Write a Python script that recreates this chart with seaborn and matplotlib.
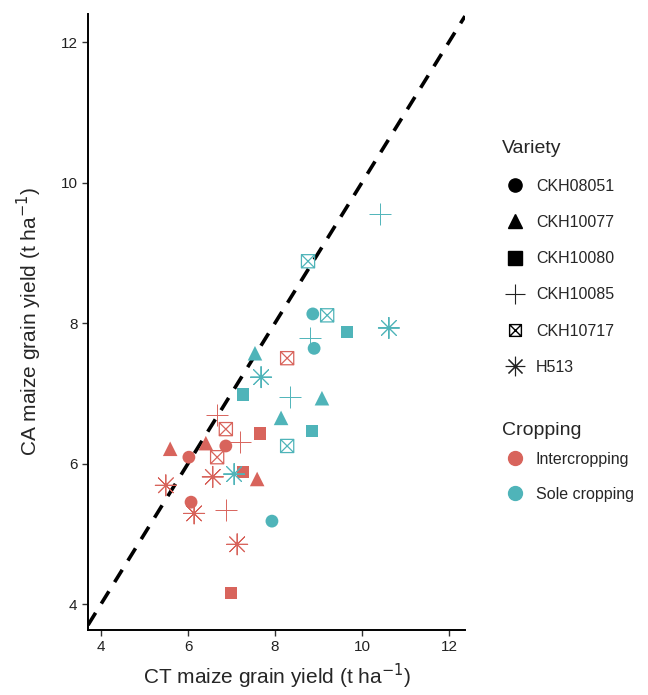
import numpy as np
import pandas as pd
import matplotlib
matplotlib.use('Agg')
import matplotlib.pyplot as plt
from matplotlib.path import Path
from matplotlib.lines import Line2D
import seaborn as sns

# Data
varieties = ['CKH08051', 'CKH10077', 'CKH10080', 'CKH10085', 'CKH10717', 'H513']
croppings = ['Intercropping', 'Sole cropping']

variety = (['CKH08051'] * 3 + ['CKH10077'] * 3 + ['CKH10080'] * 3 + ['CKH10085'] * 3
           + ['CKH10717'] * 3 + ['H513'] * 4
           + ['CKH08051'] * 3 + ['CKH10077'] * 3 + ['CKH10080'] * 3 + ['CKH10085'] * 3
           + ['CKH10717'] * 3 + ['H513'] * 3)
cropping = ['Intercropping'] * 19 + ['Sole cropping'] * 18

ct_yield = [6.87, 6.02, 6.07,
            5.59, 6.41, 7.59,
            7.66, 7.26, 6.99,
            6.67, 7.20, 6.87,
            8.28, 6.87, 6.67,
            6.57, 5.49, 6.14, 7.13,
            8.87, 8.90, 7.93,
            7.54, 8.14, 9.08,
            7.26, 9.66, 8.85,
            10.41, 8.80, 8.34,
            8.76, 9.20, 8.28,
            7.68, 7.06, 10.62]
ca_yield = [6.25, 6.09, 5.45,
            6.21, 6.29, 5.78,
            6.43, 5.88, 4.16,
            6.69, 6.31, 5.34,
            7.50, 6.49, 6.09,
            5.81, 5.69, 5.29, 4.85,
            8.13, 7.64, 5.18,
            7.57, 6.65, 6.93,
            6.98, 7.87, 6.46,
            9.55, 7.79, 6.95,
            8.88, 8.11, 6.25,
            7.23, 5.85, 7.93]

df = pd.DataFrame({'Variety': variety, 'Cropping': cropping,
                   'CT': ct_yield, 'CA': ca_yield})

# styling
palette = {'Intercropping': '#D8645C', 'Sole cropping': '#4FB4B9'}

# square with a cross (ggplot shape 7)
box_x = Path([(-1, -1), (1, -1), (1, 1), (-1, 1), (-1, -1),
              (-1, -1), (1, 1), (-1, 1), (1, -1)],
             [Path.MOVETO, Path.LINETO, Path.LINETO, Path.LINETO, Path.CLOSEPOLY,
              Path.MOVETO, Path.LINETO, Path.MOVETO, Path.LINETO])

markers = {'CKH08051': 'o', 'CKH10077': '^', 'CKH10080': 's',
           'CKH10085': '+', 'CKH10717': box_x, 'H513': (8, 2, 0)}
sizes = {'CKH08051': 85, 'CKH10077': 110, 'CKH10080': 80,
         'CKH10085': 260, 'CKH10717': 90, 'H513': 230}

sns.set_style('ticks')
plt.rcParams['font.family'] = ['Liberation Sans', 'DejaVu Sans']

fig = plt.figure(figsize=(6.48, 6.95), dpi=100)
ax = fig.add_axes([88 / 648, 1 - 630 / 695, (465 - 88) / 648, (630 - 14) / 695])

# 1:1 line
ax.axline((4, 4), (12, 12), color='black', lw=2.6, dashes=(4, 3), zorder=1)

for v in varieties:
    sub = df[df['Variety'] == v]
    m = markers[v]
    if v in ('CKH10085', 'H513'):
        sns.scatterplot(data=sub, x='CT', y='CA', hue='Cropping', hue_order=croppings,
                        palette=palette, marker=m, s=sizes[v], linewidth=0.7,
                        legend=False, ax=ax, zorder=3)
    elif v == 'CKH10717':
        sns.scatterplot(data=sub, x='CT', y='CA', hue='Cropping', hue_order=croppings,
                        palette=palette, marker=m, s=sizes[v], linewidth=0.9,
                        legend=False, ax=ax, zorder=3)
        coll = ax.collections[-1]
        coll.set_edgecolor(coll.get_facecolor())
        coll.set_facecolor('none')
    else:
        sns.scatterplot(data=sub, x='CT', y='CA', hue='Cropping', hue_order=croppings,
                        palette=palette, marker=m, s=sizes[v], edgecolor='none',
                        linewidth=0, legend=False, ax=ax, zorder=3)

ax.set_xlim(3.70, 12.37)
ax.set_ylim(3.63, 12.40)
ax.set_xticks([4, 6, 8, 10, 12])
ax.set_yticks([4, 6, 8, 10, 12])
ax.tick_params(labelsize=11, labelcolor='#222222', color='#333333', length=4, width=1)
for s in ['left', 'bottom']:
    ax.spines[s].set_linewidth(1.4)
    ax.spines[s].set_color('black')
sns.despine(ax=ax)
ax.set_xlabel('CT maize grain yield (t ha$^{-1}$)', fontsize=15, labelpad=5)
ax.set_ylabel('CA maize grain yield (t ha$^{-1}$)', fontsize=15, labelpad=12)

# legends
var_handles = []
for v in varieties:
    m = markers[v]
    if v == 'CKH10717':
        h = Line2D([], [], marker=m, linestyle='none', color='black',
                   markerfacecolor='none', markersize=8.5, markeredgewidth=1.0)
    elif v in ('CKH10085', 'H513'):
        h = Line2D([], [], marker=m, linestyle='none', color='#222222',
                   markersize=14, markeredgewidth=0.8)
    else:
        h = Line2D([], [], marker=m, linestyle='none', color='black',
                   markersize=9.5)
    var_handles.append(h)

leg1 = fig.legend(var_handles, varieties, title='Variety', loc='upper left',
                  bbox_to_anchor=(488 / 648, 1 - 126 / 695), frameon=False,
                  fontsize=11.5, title_fontsize=14, labelspacing=1.33,
                  handletextpad=0.5, handlelength=1.6, alignment='left')

crop_handles = [Line2D([], [], marker='o', linestyle='none', color=palette[c],
                       markersize=10) for c in croppings]
leg2 = fig.legend(crop_handles, croppings, title='Cropping', loc='upper left',
                  bbox_to_anchor=(488 / 648, 1 - 408 / 695), frameon=False,
                  fontsize=11.5, title_fontsize=14, labelspacing=1.25,
                  handletextpad=0.5, handlelength=1.6, alignment='left')
# tighter gap between the "Cropping" title and its entries
leg2._legend_box.sep = 9

fig.savefig('out.png', dpi=100)
